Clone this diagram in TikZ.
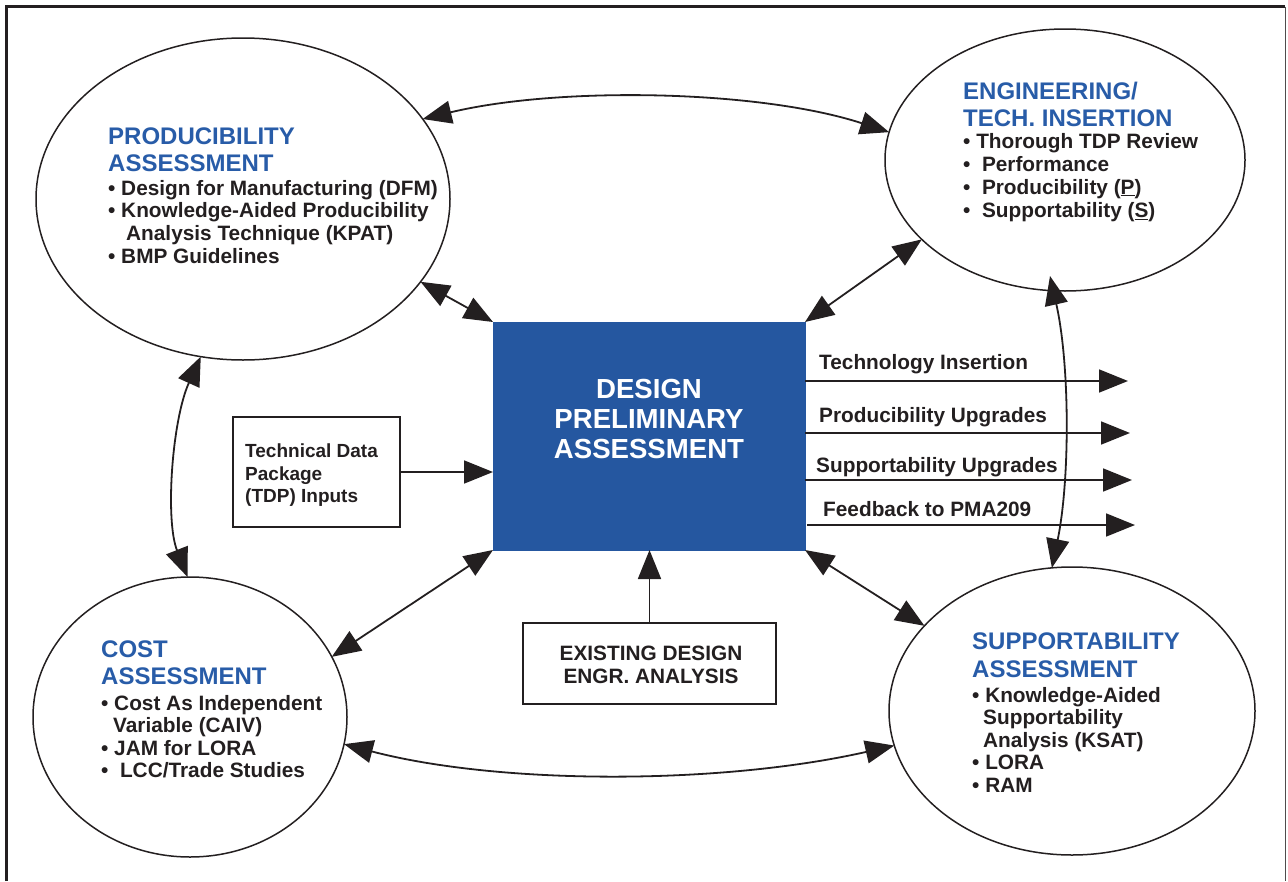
\documentclass[tikz,border=0pt]{standalone}
\usepackage{fontspec}
\setmainfont{Liberation Sans}
\usetikzlibrary{arrows.meta,shapes.geometric}
\definecolor{txtblue}{RGB}{40,92,168}
\definecolor{boxblue}{RGB}{37,87,160}
\definecolor{ink}{RGB}{35,31,32}
\tikzset{
  ell/.style={draw=ink, ellipse, line width=1.5pt, inner sep=0pt, outer sep=0pt},
  conn/.style={draw=ink, line width=1.8pt, -{Triangle[length=29pt,width=23pt]}},
  dconn/.style={draw=ink, line width=1.8pt, {Triangle[length=29pt,width=23pt]}-{Triangle[length=29pt,width=23pt]}},
  ttl/.style={anchor=north west, inner sep=0pt, align=left, text=txtblue, font=\bfseries\fontsize{24}{27}\selectfont},
  bul/.style={anchor=north west, inner sep=0pt, align=left, text=ink, font=\bfseries\fontsize{20.8}{22.7}\selectfont},
  lbl/.style={anchor=base west, inner sep=0pt, text=ink, font=\bfseries\fontsize{20.8}{23}\selectfont},
  plainbox/.style={draw=ink, line width=1.3pt, inner sep=0pt, outer sep=0pt},
}
\begin{document}
\begin{tikzpicture}[x=1pt,y=-1pt]
\useasboundingbox (0,0) rectangle (1288,881);
% frame
\draw[ink, line width=2.6pt] (6.5,881) -- (6.5,6.5) -- (1285,6.5);
\draw[ink!80, line width=1pt] (1285,6.5) -- (1285,881);

% ellipses
\node[ell, minimum width=414pt, minimum height=322pt] (prod) at (243,199) {};
\node[ell, minimum width=360pt, minimum height=262pt] (eng) at (1065,160) {};
\node[ell, minimum width=314pt, minimum height=280pt] (cost) at (190,717) {};
\node[ell, minimum width=366pt, minimum height=288pt] (sup) at (1072,711) {};

% ellipse texts
\node[ttl] (prodT) at (108,128) {PRODUCIBILITY\\ASSESSMENT};
\node[bul] (prodB) at (108,180) {• Design for Manufacturing (DFM)\\• Knowledge-Aided Producibility\\\hspace*{18pt}Analysis Technique (KPAT)\\• BMP Guidelines};

\node[ttl] (engT) at (963,82) {ENGINEERING/\\TECH. INSERTION};
\node[bul, font=\bfseries\fontsize{20.8}{23}\selectfont] (engB) at (963,133) {• Thorough TDP Review\\•\ \ Performance\\•\ \ Producibility (\underline{P})\\•\ \ Supportability (\underline{S})};

\node[ttl] (costT) at (101,641) {COST\\ASSESSMENT};
\node[bul, font=\bfseries\fontsize{20.8}{22.4}\selectfont] (costB) at (101,695) {• Cost As Independent\\\hspace*{12pt}Variable (CAIV)\\• JAM for LORA\\•\ \ LCC/Trade Studies};

\node[ttl, font=\bfseries\fontsize{24}{28}\selectfont] (supT) at (972,633) {SUPPORTABILITY\\ASSESSMENT};
\node[bul, font=\bfseries\fontsize{20.8}{22.5}\selectfont] (supB) at (972,687) {• Knowledge-Aided\\\hspace*{11pt}Supportability\\\hspace*{11pt}Analysis (KSAT)\\• LORA\\• RAM};

% central box
\node[fill=boxblue, draw=boxblue, minimum width=312pt, minimum height=228pt, inner sep=0pt, outer sep=0pt, anchor=north west] (dpa) at (493,322) {};
\node[anchor=north, inner sep=0pt, align=center, text=white, font=\bfseries\fontsize{27.6}{30}\selectfont] (dpaT) at (649,379) {DESIGN\\PRELIMINARY\\ASSESSMENT};

% TDP box
\node[plainbox, minimum width=167pt, minimum height=110pt] (tdp) at (316.5,472) {};
\node[anchor=north west, inner sep=0pt, align=left, text=ink, font=\bfseries\fontsize{19}{22.5}\selectfont] (tdpT) at (245,444) {Technical Data\\Package\\(TDP) Inputs};

% Existing design box
\node[plainbox, minimum width=253pt, minimum height=81pt] (exd) at (649.5,663.5) {};
\node[anchor=north, inner sep=0pt, align=center, text=ink, font=\bfseries\fontsize{20.8}{23}\selectfont] (exdT) at (651,646) {EXISTING DESIGN\\ENGR. ANALYSIS};

% connectors
\draw[conn] (tdp.east) -- (dpa.west |- tdp.east);
\draw[conn] (exd.north) -- (exd.north |- dpa.south);
\draw[dconn] (prod.-25) -- (dpa.north west);
\draw[dconn] (dpa.north east) -- (eng.-151);
\draw[dconn] (dpa.south west) -- (cost.23);
\draw[dconn] (dpa.south east) -- (sup.150);

\draw[dconn] (prod.24) .. controls (560,86) and (760,90) .. (eng.171);
\draw[dconn] (prod.-105) .. controls (172,420) and (165,520) .. (cost.91);
\coordinate (engIn) at (1050,276);
\draw[dconn] (engIn) .. controls (1070,365) and (1070,480) .. (sup.98);
\draw[dconn] (cost.-10) .. controls (500,785) and (720,785) .. (sup.-169);

% outputs
\coordinate (o1) at (1128,381);
\coordinate (o2) at (1130,433);
\coordinate (o3) at (1132,480);
\coordinate (o4) at (1135,525);
\draw[conn] ([yshift=-59pt]dpa.north east) -- (o1);
\draw[conn] ([yshift=-111pt]dpa.north east) -- (o2);
\draw[conn] ([yshift=-158pt]dpa.north east) -- (o3);
\draw[conn] ([yshift=-203pt,xshift=2pt]dpa.north east) -- (o4);
\node[lbl] (l1) at (819,369) {Technology Insertion};
\node[lbl] (l2) at (819,422) {Producibility Upgrades};
\node[lbl] (l3) at (816,472) {Supportability Upgrades};
\node[lbl] (l4) at (823,516) {Feedback to PMA209};
\end{tikzpicture}
\end{document}
